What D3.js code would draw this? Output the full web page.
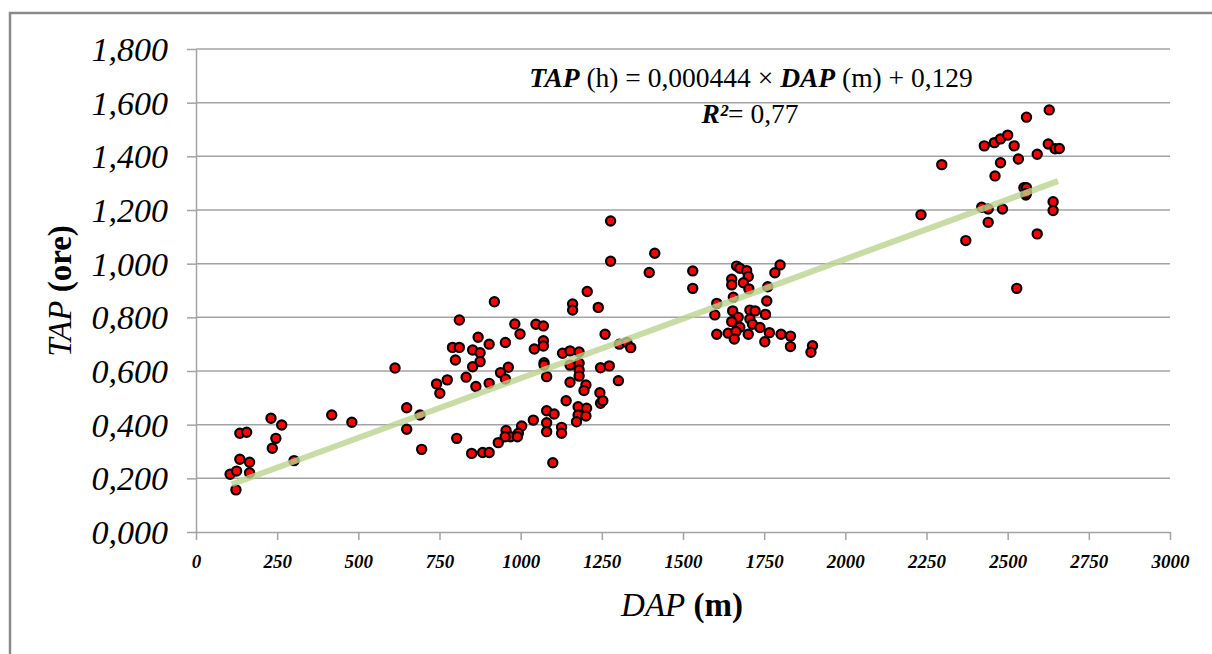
<!DOCTYPE html>
<html>
<head>
<meta charset="utf-8">
<script src="https://cdn.jsdelivr.net/npm/d3@7/dist/d3.min.js"></script>
<style>
  body { margin: 0; background: #fff; }
  svg { display: block; font-family: "Liberation Serif", "Times New Roman", serif; }
</style>
</head>
<body>
<svg id="chart" width="1212" height="654"></svg>
<script>
// DAP (m) / TAP (ore) pairs
const dap = [
  105, 125, 135, 165, 165, 123, 135, 156, 231, 264, 246, 235, 302, 418, 480, 649, 690, 649, 695, 613, 741, 751,
  919, 811, 1160, 1160, 1205, 982, 998, 1047, 1070, 869, 903, 953, 1070, 1070, 1042, 790, 811, 852, 875, 799,
  875, 852, 962, 938, 953, 832, 774, 862, 903, 1072, 1072, 1080, 1129, 1152, 1180, 1152, 1180, 1180, 1180, 1152,
  1201, 1195, 1140, 1177, 1203, 1080, 1103, 1177, 1201, 1172, 1080, 1080, 1126, 1126, 1039, 1003, 993, 955, 969,
  952, 990, 931, 803, 849, 883, 903, 1099,
  1277, 1277, 1413, 1396, 1530, 1530, 1239, 1260, 1304, 1327, 1339, 1246, 1273, 1301, 1244, 1246, 1253,
  1604, 1598, 1604, 1639,
  1665, 1675, 1696, 1701, 1686, 1703, 1650, 1650, 1799, 1783, 1761, 1655, 1758, 1653, 1706, 1722, 1754, 1670,
  1650, 1706, 1675, 1663, 1714, 1737, 1658, 1701, 1766, 1752, 1802, 1831, 1831, 1899, 1894,
  2628, 2558, 2428, 2459, 2478, 2500, 2520, 2625, 2646, 2659, 2591, 2533, 2478, 2297, 2461, 2550, 2558, 2556,
  2558, 2640, 2640, 2420, 2440, 2484, 2233, 2440, 2591, 2371, 2528
];
const tap = [
  0.215, 0.227, 0.271, 0.260, 0.221, 0.157, 0.368, 0.372, 0.424, 0.399, 0.349, 0.312, 0.266, 0.436, 0.409, 0.463, 0.436, 0.383, 0.308, 0.611, 0.552, 0.517,
  0.858, 0.790, 0.850, 0.827, 0.896, 0.775, 0.738, 0.774, 0.768, 0.726, 0.700, 0.706, 0.713, 0.693, 0.682, 0.688, 0.688, 0.678, 0.668, 0.641,
  0.635, 0.616, 0.614, 0.594, 0.570, 0.577, 0.567, 0.542, 0.554, 0.631, 0.622, 0.579, 0.666, 0.675, 0.671, 0.622, 0.629, 0.604, 0.581, 0.558,
  0.548, 0.527, 0.489, 0.467, 0.461, 0.452, 0.440, 0.436, 0.432, 0.411, 0.407, 0.374, 0.390, 0.368, 0.417, 0.395, 0.368, 0.378, 0.355,
  0.355, 0.355, 0.333, 0.349, 0.293, 0.296, 0.296, 0.258,
  1.159, 1.009, 1.039, 0.967, 0.973, 0.908, 0.837, 0.737, 0.700, 0.706, 0.687, 0.612, 0.619, 0.564, 0.519, 0.480, 0.489,
  0.852, 0.809, 0.737, 0.741,
  0.991, 0.983, 0.974, 0.952, 0.929, 0.906, 0.942, 0.921, 0.995, 0.966, 0.914, 0.875, 0.861, 0.824, 0.827, 0.824, 0.811, 0.800,
  0.784, 0.794, 0.763, 0.747, 0.774, 0.762, 0.719, 0.737, 0.743, 0.709, 0.737, 0.730, 0.691, 0.694, 0.670,
  1.573, 1.546, 1.439, 1.451, 1.465, 1.479, 1.439, 1.446, 1.428, 1.429, 1.408, 1.390, 1.376, 1.369, 1.327, 1.283, 1.283, 1.256,
  1.262, 1.231, 1.198, 1.210, 1.204, 1.204, 1.182, 1.154, 1.111, 1.086, 0.908
];

const xTicks = [0, 250, 500, 750, 1000, 1250, 1500, 1750, 2000, 2250, 2500, 2750, 3000];
const yTicks = [0, 0.2, 0.4, 0.6, 0.8, 1.0, 1.2, 1.4, 1.6, 1.8];

// linear fit shown on the chart
const slope = 0.000444, intercept = 0.129;
const fitFrom = 110, fitTo = 2655;

const svg = d3.select("#chart");
const plotL = 196, plotR = 1170, plotT = 49, plotB = 532;
const gridColor = "#a3a3a3";
const serif = "'Liberation Serif', 'Times New Roman', serif";

const x = d3.scaleLinear().domain([0, 3000]).range([plotL, plotR]);
const y = d3.scaleLinear().domain([0, 1.8]).range([plotB, plotT]);

// outer frame
svg.append("rect")
  .attr("x", 10).attr("y", 13)
  .attr("width", 1230).attr("height", 660)
  .attr("fill", "none")
  .attr("stroke", "#8a8a8a")
  .attr("stroke-width", 2.5);

// horizontal gridlines
svg.append("g").selectAll("line")
  .data(yTicks.filter(d => d > 0))
  .join("line")
  .attr("x1", plotL).attr("x2", plotR)
  .attr("y1", d => y(d)).attr("y2", d => y(d))
  .attr("stroke", gridColor)
  .attr("stroke-width", 1.5);

const fmtY = d => d3.format(".3f")(d).replace(".", ",");

const yAxis = svg.append("g")
  .attr("transform", `translate(${plotL},0)`)
  .call(d3.axisLeft(y).tickValues(yTicks).tickFormat(fmtY).tickSize(9).tickPadding(19).tickSizeOuter(0))
  .attr("font-family", serif);

yAxis.select(".domain").attr("stroke", gridColor).attr("stroke-width", 1.5);
yAxis.selectAll(".tick line").attr("stroke", gridColor).attr("stroke-width", 1.5);
yAxis.selectAll(".tick text")
  .attr("font-style", "italic")
  .attr("font-size", 34)
  .attr("fill", "#000")
  .attr("dy", "0.34em");

const xAxis = svg.append("g")
  .attr("transform", `translate(0,${plotB})`)
  .call(d3.axisBottom(x).tickValues(xTicks).tickFormat(d3.format("d")).tickSize(8).tickPadding(15).tickSizeOuter(0))
  .attr("font-family", serif);

xAxis.select(".domain").attr("stroke", gridColor).attr("stroke-width", 1.5);
xAxis.selectAll(".tick line").attr("stroke", gridColor).attr("stroke-width", 1.5);
xAxis.selectAll(".tick text")
  .attr("font-style", "italic")
  .attr("font-weight", "bold")
  .attr("font-size", 19)
  .attr("fill", "#000");

// points
const pts = dap.map((d, i) => [d, tap[i]]);
svg.append("g").selectAll("circle")
  .data(pts)
  .join("circle")
  .attr("cx", d => x(d[0]))
  .attr("cy", d => y(d[1]))
  .attr("r", 4.6)
  .attr("fill", "#ff0000")
  .attr("stroke", "#000")
  .attr("stroke-width", 2.2);

// trendline on top of the markers
svg.append("line")
  .attr("x1", x(fitFrom)).attr("y1", y(slope * fitFrom + intercept))
  .attr("x2", x(fitTo)).attr("y2", y(slope * fitTo + intercept))
  .attr("stroke", "#bcd38f")
  .attr("stroke-opacity", 0.8)
  .attr("stroke-width", 6);

// axis titles
const yTitle = svg.append("text")
  .attr("transform", "translate(71,291) rotate(-90)")
  .attr("text-anchor", "middle")
  .attr("font-size", 33);
yTitle.append("tspan").attr("font-style", "italic").text("TAP");
yTitle.append("tspan").attr("font-weight", "bold").text(" (ore)");

const xTitle = svg.append("text")
  .attr("x", 682).attr("y", 616)
  .attr("text-anchor", "middle")
  .attr("font-size", 33);
xTitle.append("tspan").attr("font-style", "italic").text("DAP");
xTitle.append("tspan").attr("font-weight", "bold").text(" (m)");

// equation
const eq = svg.append("text")
  .attr("x", 751).attr("y", 87)
  .attr("text-anchor", "middle")
  .attr("font-size", 27.5);
eq.append("tspan").attr("font-style", "italic").attr("font-weight", "bold").text("TAP");
eq.append("tspan").text(" (h) = 0,000444 × ");
eq.append("tspan").attr("font-style", "italic").attr("font-weight", "bold").text("DAP");
eq.append("tspan").text(" (m) + 0,129");

const r2 = svg.append("text")
  .attr("x", 750).attr("y", 123)
  .attr("text-anchor", "middle")
  .attr("font-size", 27.5);
r2.append("tspan").attr("font-style", "italic").attr("font-weight", "bold").text("R²");
r2.append("tspan").text("= 0,77");
</script>
</body>
</html>
